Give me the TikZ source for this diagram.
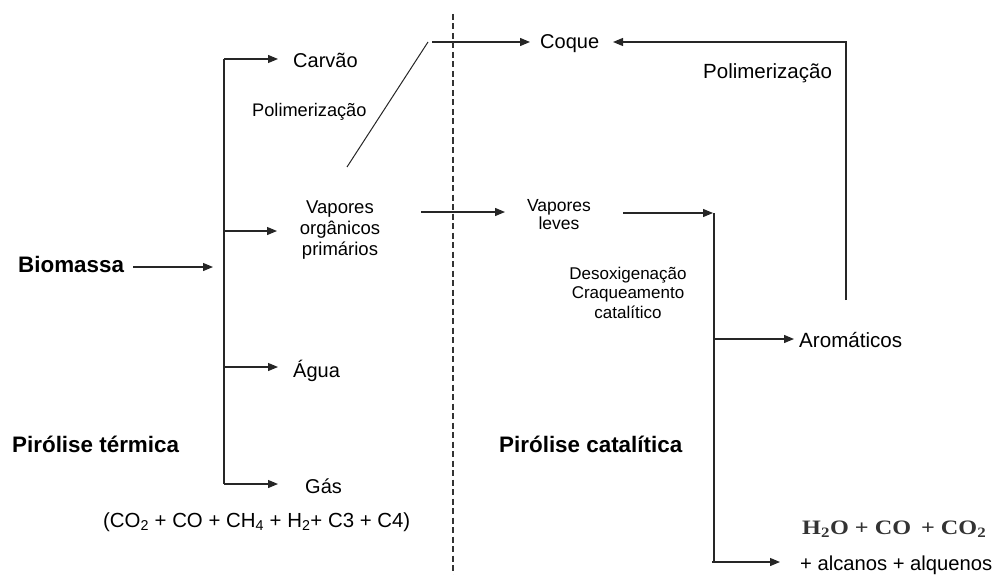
\documentclass[tikz,border=0pt]{standalone}
\usepackage{fontspec}
\setmainfont{Liberation Sans}
\newfontfamily\serifx{Liberation Serif}
\usetikzlibrary{arrows.meta}
\tikzset{
  conn/.style={line width=1.2pt, draw=black!85},
  arr/.style={conn, -{Triangle[length=10pt,width=8pt]}},
  txt/.style={inner sep=0pt, anchor=base west, font=\fontsize{20}{24}\selectfont},
  txtc/.style={inner sep=0pt, anchor=base, align=center},
  ttl/.style={inner sep=0pt, anchor=base west, font=\fontsize{22.4}{26}\selectfont\bfseries},
}
\begin{document}
\begin{tikzpicture}[x=1pt,y=-1pt]
\useasboundingbox (0,0) rectangle (998,575);
% texts
\node[ttl] (bio) at (18,272) {Biomassa};
\node[ttl] (pt) at (12,452) {Pirólise térmica};
\node[ttl] (pc) at (499,452) {Pirólise catalítica};
\node[txt] (carv) at (293,68) {Carvão};
\node[txt, font=\fontsize{18.2}{22}\selectfont] (pol1) at (252,117) {Polimerização};
\node[txtc, font=\fontsize{18.5}{21}\selectfont] (vop) at (340,255) {Vapores\\orgânicos\\primários};
\node[txt] (agua) at (293,377) {Água};
\node[txt] (gas) at (305,493) {Gás};
\node[txt, font=\fontsize{20.4}{24}\selectfont] (form) at (103,527) {(CO\textsubscript{2} + CO + CH\textsubscript{4} + H\textsubscript{2}+ C3 + C4)};
\node[txt] (coq) at (540,49) {Coque};
\node[txt, font=\fontsize{20.5}{24}\selectfont] (pol2) at (703,79) {Polimerização};
\node[txtc, font=\fontsize{17.5}{18}\selectfont] (vl) at (559,229) {Vapores\\leves};
\node[txtc, font=\fontsize{17}{19.5}\selectfont] (deso) at (628,318) {Desoxigenação\\Craqueamento\\catalítico};
\node[txt, font=\fontsize{20.6}{24}\selectfont] (aro) at (799,347) {Aromáticos};
\node[txt, text=black!80, font=\fontsize{20.5}{24}\selectfont\serifx\bfseries] (h2o) at (802,534) {\scalebox{1.18}[1]{H\textsubscript{2}O + CO \,+ CO\textsubscript{2}}};
\node[txt, font=\fontsize{20.2}{24}\selectfont] (alc) at (800,570) {+ alcanos + alquenos};
% coordinates
\coordinate (b0) at (133,267); \coordinate (b1) at (213,267);
\coordinate (kt) at (224,59); \coordinate (kb) at (224,484);
\coordinate (k1) at (224,231); \coordinate (k2) at (224,367);
\coordinate (e0) at (278,59); \coordinate (e1) at (277,231);
\coordinate (e2) at (278,367); \coordinate (e3) at (278,484);
\coordinate (d0) at (347,167); \coordinate (d1) at (428,42);
\coordinate (h0) at (432,42); \coordinate (h1) at (530,42);
\coordinate (dt) at (453,14); \coordinate (db) at (453,575);
\coordinate (m0) at (421,212); \coordinate (m1) at (505,212);
\coordinate (n0) at (623,213); \coordinate (n1) at (713,213);
\coordinate (vt) at (714,213); \coordinate (vb) at (714,563);
\coordinate (a0) at (714,339); \coordinate (a1) at (794,339);
\coordinate (g0) at (712,562); \coordinate (g1) at (780,562);
\coordinate (p0) at (846,300); \coordinate (p1) at (846,42); \coordinate (p2) at (613,42);
% connectors
\draw[arr] (b0) -- (b1);
\draw[conn] (kt) -- (kb);
\draw[arr] (kt) -- (e0);
\draw[arr] (k1) -- (e1);
\draw[arr] (k2) -- (e2);
\draw[arr] (kb) -- (e3);
\draw[conn, line width=1pt] (d0) -- (d1);
\draw[arr] (h0) -- (h1);
\draw[line width=1.6pt, draw=black!80, dash pattern=on 6pt off 3.5pt] (dt) -- (db);
\draw[arr] (m0) -- (m1);
\draw[arr] (n0) -- (n1);
\draw[conn] (vt) -- (vb);
\draw[arr] (a0) -- (a1);
\draw[arr] (g0) -- (g1);
\draw[arr] (p0) -- (p1) -- (p2);
\end{tikzpicture}
\end{document}
